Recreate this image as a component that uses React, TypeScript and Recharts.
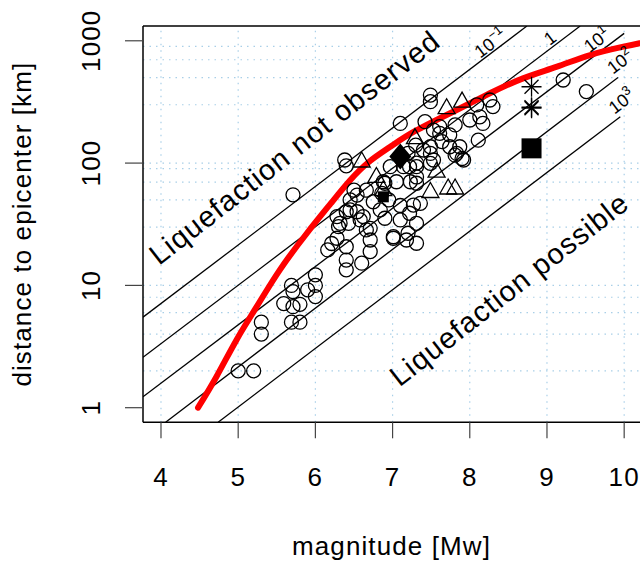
import React from 'react';
import { ComposedChart, XAxis, YAxis, Line, Scatter, ReferenceLine } from 'recharts';

const FONT = '"Liberation Sans", Arial, Helvetica, sans-serif';

const xTicks = [4, 5, 6, 7, 8, 9, 10];
const yTicks = [1, 10, 100, 1000];
const gridX = [4, 5, 6, 7, 8, 9, 10];
const gridY = [2, 4, 6, 8, 10, 30, 50, 70, 90, 100, 300, 500, 700, 900];

// red threshold curve
const curveM = [4.48, 4.72, 4.98, 5.24, 5.54, 5.89, 6.2, 6.45, 6.7, 6.97, 7.3, 7.83, 8.26, 8.69, 9.13, 9.56, 9.99, 10.2];
const curveR = [1.0, 1.8, 3.6, 6.7, 13.4, 26.7, 46.8, 72.4, 103, 136, 184, 272, 372, 493, 614, 765, 895, 955];

// energy density iso-lines: [m1, r1, m2, r2]
const isoLines: [number, number, number, number][] = [
  [3.767, 5.5, 8.74, 1320],
  [3.767, 2.58, 9.43, 1320],
  [3.767, 1.23, 10.0, 1150],
  [4.06, 0.76, 9.92, 500],
  [4.74, 0.76, 9.95, 239],
];
const isoExp = ['−1', '', '1', '2', '3'];
const isoBase = ['10', '1', '10', '10', '10'];
const isoLabelM = [8.27, 9.04, 9.65, 9.95, 9.97];
const isoLabelR = [950, 1048, 1010, 675, 318];

const circles: [number, number][] = [
  [5.0, 2.0], [5.2, 2.0], [5.3, 5.0], [5.3, 4.0],
  [5.59, 7.1], [5.69, 10.0], [5.71, 8.9], [5.71, 6.7], [5.8, 7.0], [5.69, 5.0], [5.8, 5.0], [5.9, 9.2],
  [6.0, 12.2], [6.0, 10.0], [6.0, 8.1], [5.71, 55],
  [6.16, 19.5], [6.21, 22], [6.28, 24.3], [6.3, 30.2], [6.28, 36.5], [6.4, 40], [6.43, 32.2], [6.4, 20.7],
  [6.4, 16.1], [6.4, 13.4], [6.6, 15.2], [6.71, 18.9], [6.71, 23.5], [6.71, 29.3], [6.58, 34.3], [6.54, 40],
  [6.54, 54.8], [6.66, 60], [6.75, 48.3], [6.9, 35.4], [7.01, 24.3], [6.86, 56.6], [6.9, 68.4], [6.62, 36.5],
  [6.66, 28.4], [6.45, 41.4], [6.32, 32.2], [6.84, 41.4], [6.5, 60], [6.45, 50],
  [7.1, 34.3], [7.22, 38.9], [7.36, 46.9], [7.31, 32.2], [7.01, 25], [7.18, 23.5], [7.31, 22.1], [7.2, 26.7],
  [7.27, 45.4], [7.31, 68.4], [7.23, 70.4], [7.05, 70.4], [6.88, 70.4], [6.97, 93.5], [7.14, 93.5], [7.31, 93.5],
  [7.31, 77], [7.22, 93.5], [7.1, 45], [6.95, 50],
  [6.38, 106], [6.4, 95], [7.1, 211], [7.42, 218], [7.49, 360], [7.49, 318], [8.09, 299], [8.26, 328],
  [8.3, 290], [8.13, 239], [8.0, 225], [7.81, 205], [7.53, 186], [7.61, 175], [7.64, 150], [7.74, 170],
  [7.87, 136], [7.81, 116], [7.9, 109], [8.11, 154], [7.49, 136], [7.4, 128], [7.53, 106], [7.49, 99.6],
  [7.31, 100], [7.61, 199], [7.74, 136], [7.83, 120], [7.92, 106], [8.17, 211], [7.49, 120], [7.2, 120],
  [7.3, 140], [9.21, 478], [9.51, 384],
];
const triangles: [number, number][] = [
  [6.6, 103], [6.79, 77], [7.29, 160], [7.7, 281], [7.9, 318], [7.57, 85], [7.49, 58], [7.72, 62], [7.81, 62], [6.88, 60],
];
const diamonds: [number, number][] = [[7.1, 113]];
const smallSquares: [number, number][] = [[6.88, 53]];
const bigSquares: [number, number][] = [[8.8, 132]];
const stars: [number, number][] = [[8.8, 421], [8.8, 286], [8.8, 281]];

const toPts = (a: [number, number][]) => a.map(([m, r]) => ({ m, r }));
const curveData = curveM.map((m, i) => ({ m, r: curveR[i] }));
const isoLabelData = isoLabelM.map((m, i) => ({ m, r: isoLabelR[i], base: isoBase[i], exp: isoExp[i] }));
const bigTexts = [
  { m: 5.73, r: 134, text: 'Liquefaction not observed' },
  { m: 8.51, r: 9.3, text: 'Liquefaction possible' },
];

const OpenCircle = (p: any) => <circle cx={p.cx} cy={p.cy} r={7} fill="none" stroke="#000" strokeWidth={1.3} />;
const OpenTriangle = (p: any) => (
  <polygon points={`${p.cx},${p.cy - 9.5} ${p.cx - 8.5},${p.cy + 5.5} ${p.cx + 8.5},${p.cy + 5.5}`} fill="none" stroke="#000" strokeWidth={1.3} />
);
const Diamond = (p: any) => (
  <polygon points={`${p.cx},${p.cy - 13} ${p.cx + 11},${p.cy} ${p.cx},${p.cy + 13} ${p.cx - 11},${p.cy}`} fill="#000" />
);
const SmallSquare = (p: any) => <rect x={p.cx - 5.5} y={p.cy - 5.5} width={11} height={11} fill="#000" />;
const BigSquare = (p: any) => <rect x={p.cx - 10} y={p.cy - 10} width={20} height={20} fill="#000" />;
const Star = (p: any) => {
  const s = 10;
  const d = 7;
  return (
    <g stroke="#000" strokeWidth={1.3}>
      <line x1={p.cx - s} y1={p.cy} x2={p.cx + s} y2={p.cy} />
      <line x1={p.cx} y1={p.cy - s} x2={p.cx} y2={p.cy + s} />
      <line x1={p.cx - d} y1={p.cy - d} x2={p.cx + d} y2={p.cy + d} />
      <line x1={p.cx - d} y1={p.cy + d} x2={p.cx + d} y2={p.cy - d} />
    </g>
  );
};

const IsoLabel = (p: any) => {
  const { cx, cy, payload } = p;
  return (
    <text x={cx} y={cy} transform={`rotate(-37 ${cx} ${cy})`} textAnchor="middle" dominantBaseline="central"
      fontFamily={FONT} fontSize={18} fill="#000">
      {payload.base}
      {payload.exp ? <tspan dy={-7} fontSize={13}>{payload.exp}</tspan> : null}
    </text>
  );
};

const BigText = (p: any) => {
  const { cx, cy, payload } = p;
  return (
    <text x={cx} y={cy} transform={`rotate(-38 ${cx} ${cy})`} textAnchor="middle" dominantBaseline="central"
      fontFamily={FONT} fontSize={29} letterSpacing={1.1} fill="#000">
      {payload.text}
    </text>
  );
};

const YTick = (p: any) => {
  const { x, y, payload } = p;
  return (
    <text x={x} y={y} transform={`rotate(-90 ${x} ${y})`} textAnchor="middle" fontFamily={FONT} fontSize={26}
      letterSpacing={1.1} fill="#000">
      {payload.value}
    </text>
  );
};

const App: React.FC = () => {
  return (
    <div style={{ position: 'absolute', left: 0, top: 0, width: 640, height: 561, background: '#fff' }}>
      <ComposedChart width={640} height={561} margin={{ top: 26, right: 0, bottom: 0, left: 0 }}>
        <XAxis type="number" dataKey="m" domain={[3.767, 10.205]} allowDataOverflow ticks={xTicks} interval={0}
          height={138.7} tickSize={16} tickMargin={29} axisLine={false} tickLine={{ stroke: '#444', strokeWidth: 1.2 }}
          tick={{ fill: '#000', fontSize: 26, fontFamily: FONT, letterSpacing: 1.1 }}
          label={{ value: 'magnitude [Mw]', position: 'insideBottom', offset: 6, fill: '#000', fontSize: 26, fontFamily: FONT, letterSpacing: 1.1 }} />
        <YAxis type="number" dataKey="r" scale="log" domain={[0.7596, 1321]} allowDataOverflow ticks={yTicks} interval={0}
          width={143} tickSize={18} tickMargin={25} axisLine={false} tickLine={{ stroke: '#444', strokeWidth: 1.2 }}
          tick={<YTick />}
          label={{ value: 'distance to epicenter [km]', angle: -90, position: 'insideLeft', offset: 21.5, fill: '#000', fontSize: 26, fontFamily: FONT, letterSpacing: 1.1, style: { textAnchor: 'middle' } }} />

        {gridX.map((v) => (
          <ReferenceLine key={'gx' + v} x={v} stroke="#a9cfe8" strokeWidth={1.2} strokeDasharray="1.5 5" ifOverflow="visible" />
        ))}
        {gridY.map((v) => (
          <ReferenceLine key={'gy' + v} y={v} stroke="#a9cfe8" strokeWidth={1.2} strokeDasharray="1.5 5" ifOverflow="visible" />
        ))}

        {isoLines.map(([m1, r1, m2, r2], i) => (
          <ReferenceLine key={'iso' + i} segment={[{ x: m1, y: r1 }, { x: m2, y: r2 }]} stroke="#000" strokeWidth={1.3} ifOverflow="hidden" />
        ))}

        <Line data={curveData} dataKey="r" type="natural" stroke="#ff0000" strokeWidth={6} strokeLinecap="round" dot={false} activeDot={false} isAnimationActive={false} />

        <Scatter data={toPts(circles)} shape={OpenCircle} isAnimationActive={false} />
        <Scatter data={toPts(triangles)} shape={OpenTriangle} isAnimationActive={false} />
        <Scatter data={toPts(diamonds)} shape={Diamond} isAnimationActive={false} />
        <Scatter data={toPts(smallSquares)} shape={SmallSquare} isAnimationActive={false} />
        <Scatter data={toPts(bigSquares)} shape={BigSquare} isAnimationActive={false} />
        <Scatter data={toPts(stars)} shape={Star} isAnimationActive={false} />
        <Scatter data={isoLabelData} shape={IsoLabel} isAnimationActive={false} />
        <Scatter data={bigTexts} shape={BigText} isAnimationActive={false} />

        <ReferenceLine x={3.767} stroke="#000" strokeWidth={1.5} ifOverflow="visible" />
        <ReferenceLine y={0.7596} stroke="#000" strokeWidth={1.5} ifOverflow="visible" />
        <ReferenceLine y={1321} stroke="#000" strokeWidth={1.5} ifOverflow="visible" />
      </ComposedChart>
    </div>
  );
};

export default App;
